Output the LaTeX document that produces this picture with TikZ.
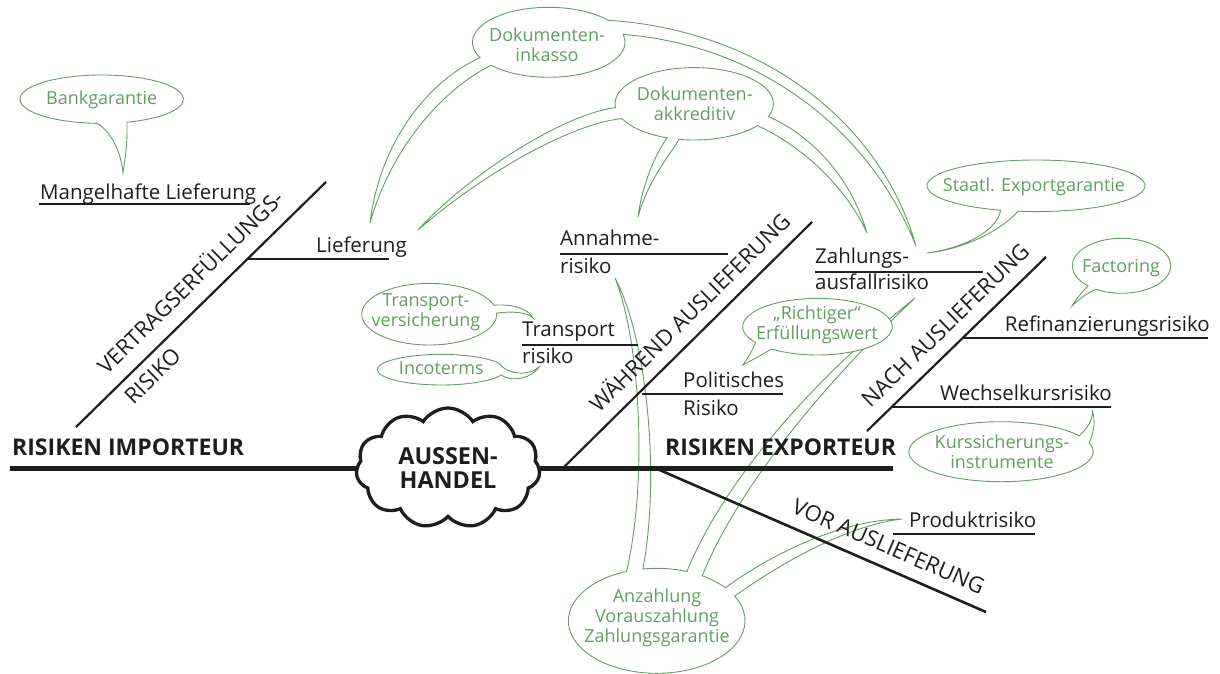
\documentclass[tikz,border=0pt]{standalone}
\usepackage{fontspec}
\setmainfont{Open Sans}
\usetikzlibrary{shapes.symbols,calc}

\definecolor{hintgreen}{RGB}{98,158,98}
\definecolor{ink}{RGB}{30,30,30}

\tikzset{
  spine/.style={ink, line width=5pt},
  branch/.style={ink, line width=2.2pt},
  ribline/.style={ink, line width=1.2pt},
  rib/.style={text=ink, inner sep=0pt, anchor=base west, font=\fontsize{20.5}{24}\selectfont},
  branchlabel/.style={text=ink, inner sep=0pt, sloped, font=\fontsize{22}{26}\selectfont},
  head/.style={text=ink, inner sep=0pt, anchor=base west, font=\bfseries\fontsize{23}{27}\selectfont},
  bubble/.style={draw=hintgreen, line width=0.9pt},
  hint/.style={text=hintgreen, inner sep=0pt, align=center, font=\fontsize{18}{20}\selectfont},
}

\begin{document}
\begin{tikzpicture}[x=1pt, y=-1pt]
\useasboundingbox (0,0) rectangle (1220,674);

% Callouts first, the fishbone is drawn on top

% Bankgarantie
\coordinate (bk) at (101.7,99.2);
\fill[white] (bk) ellipse [x radius=81.7, y radius=24.2];
\draw[bubble] (bk) ++(93:81.7 and 24.2)
  arc[start angle=93, end angle=432, x radius=81.7, y radius=24.2]
  .. controls (127.5,145) and (125,160) .. (123,173)
  .. controls (121,152) and (112,133) .. cycle;
\node[hint, anchor=base] (bank) at (101.7,105) {Bankgarantie};

% Dokumenteninkasso
\coordinate (dink) at (548.7,42.3);
\fill[white] (dink) ellipse [x radius=76.3, y radius=35];
\draw[bubble] (dink) ++(-13:76.3 and 35)
  arc[start angle=-13, end angle=139, x radius=76.3, y radius=35]
  .. controls (445,88) and (392,145) .. (370,223)
  .. controls (380,140) and (430,80) .. ($(dink)+(154:76.3 and 35)$)
  arc[start angle=154, end angle=321, x radius=76.3, y radius=35]
  .. controls (760,30) and (880,120) .. (916,246)
  .. controls (870,130) and (760,45) .. cycle;
\node[hint] (inkasso) at (547,45) {Dokumenten-\\inkasso};

% Dokumentenakkreditiv
\coordinate (dakk) at (694.2,103.8);
\fill[white] (dakk) ellipse [x radius=79.2, y radius=36.2];
\draw[bubble] (dakk) ++(37:79.2 and 36.2)
  arc[start angle=37, end angle=101, x radius=79.2, y radius=36.2]
  .. controls (670,155) and (648,180) .. (638,217)
  .. controls (642,185) and (655,155) .. ($(dakk)+(110:79.2 and 36.2)$)
  arc[start angle=110, end angle=156, x radius=79.2, y radius=36.2]
  .. controls (565,125) and (475,180) .. (418,230)
  .. controls (465,178) and (560,115) .. ($(dakk)+(174:79.2 and 36.2)$)
  arc[start angle=174, end angle=380.5, x radius=79.2, y radius=36.2]
  .. controls (810,135) and (850,175) .. (867,233)
  .. controls (845,185) and (800,145) .. cycle;
\node[hint] (akkreditiv) at (694.7,104) {Dokumenten-\\akkreditiv};

% Staatl. Exportgarantie
\coordinate (staat) at (1036,185.8);
\fill[white] (staat) ellipse [x radius=109, y radius=25.8];
\draw[bubble] (staat) ++(109:109 and 25.8)
  arc[start angle=109, end angle=459.5, x radius=109, y radius=25.8]
  .. controls (1000,232) and (960,250) .. (927,253)
  .. controls (965,248) and (998,230) .. cycle;
\node[hint, anchor=base] (export) at (1034,191.7) {Staatl. Exportgarantie};

% Factoring
\coordinate (fact) at (1121.5,265.8);
\fill[white] (fact) ellipse [x radius=49.2, y radius=27.5];
\draw[bubble] (fact) ++(133:49.2 and 27.5)
  arc[start angle=133, end angle=481, x radius=49.2, y radius=27.5]
  .. controls (1088,292) and (1078,300) .. (1072,306)
  .. controls (1076,299) and (1082,292) .. cycle;
\node[hint, anchor=base] (factoring) at (1121,272.3) {Factoring};

% Transportversicherung
\coordinate (tv) at (429.2,314.2);
\fill[white] (tv) ellipse [x radius=67.5, y radius=30.8];
\draw[bubble] (tv) ++(-2:67.5 and 30.8)
  arc[start angle=-2, end angle=343, x radius=67.5, y radius=30.8]
  .. controls (512,304) and (528,308) .. (533,318)
  .. controls (527,312) and (512,311) .. cycle;
\node[hint] (versicherung) at (426,312) {Transport-\\versicherung};

% Incoterms
\coordinate (inco) at (441.2,369.7);
\fill[white] (inco) ellipse [x radius=63.8, y radius=15.3];
\draw[bubble] (inco) ++(20:63.8 and 15.3)
  arc[start angle=20, end angle=335, x radius=63.8, y radius=15.3]
  .. controls (506,374) and (528,377) .. (539,367)
  .. controls (532,378) and (512,383) .. cycle;
\node[hint, anchor=base] (incoterms) at (441.3,374) {Incoterms};

% Kurssicherungsinstrumente
\coordinate (kurs) at (1001,451.7);
\fill[white] (kurs) ellipse [x radius=92.2, y radius=30];
\draw[bubble] (kurs) ++(-17:92.2 and 30)
  arc[start angle=-17, end angle=328, x radius=92.2, y radius=30]
  .. controls (1088,428) and (1094,418) .. (1092,410)
  .. controls (1096,420) and (1094,432) .. cycle;
\node[hint] (kurssicherung) at (1002,452) {Kurssicherungs-\\instrumente};

% Anzahlung
\coordinate (anz) at (656.7,620.8);
\fill[white] (anz) ellipse [x radius=88.3, y radius=52.5];
\draw[bubble] (anz) ++(332:88.3 and 52.5)
  arc[start angle=332, end angle=610, x radius=88.3, y radius=52.5]
  .. controls (648,480) and (640,340) .. (615,278)
  .. controls (648,340) and (660,480) .. ($(anz)+(261:88.3 and 52.5)$)
  arc[start angle=261, end angle=290, x radius=88.3, y radius=52.5]
  .. controls (720,490) and (800,390) .. (915,298)
  .. controls (812,395) and (735,495) .. ($(anz)+(301:88.3 and 52.5)$)
  arc[start angle=301, end angle=321, x radius=88.3, y radius=52.5]
  .. controls (770,555) and (840,520) .. (902,519)
  .. controls (850,525) and (785,560) .. cycle;
\node[hint] (anzahlung) at (657,618) {Anzahlung\\Vorauszahlung\\Zahlungsgarantie};

% Richtiger Erfuellungswert (covers the Anzahlung tail)
\coordinate (richt) at (817.5,326.7);
\fill[white] (richt) ellipse [x radius=74.8, y radius=28.3];
\draw[bubble] (richt) ++(146:74.8 and 28.3)
  arc[start angle=146, end angle=488, x radius=74.8, y radius=28.3]
  .. controls (760,356) and (750,361) .. (743,365)
  .. controls (747,359) and (752,352) .. cycle;
\node[hint] (richtig) at (817,325) {„Richtiger“\\Erfüllungswert};

% Spine
\coordinate (imp0) at (10,468);
\coordinate (exp1) at (893,468);
\draw[spine] (imp0) -- (exp1);
\node[cloud, draw=ink, fill=white, line width=3.3pt, cloud puffs=11, cloud puff arc=115,
  aspect=1.55, minimum width=184pt, minimum height=120pt, inner sep=0pt, align=center,
  text=ink, font=\bfseries\fontsize{23.4}{24}\selectfont] (cloud) at (448,468) {AUSSEN-\\HANDEL};
\node[head] (imp) at (12,455) {RISIKEN IMPORTEUR};
\node[head] (exp) at (665,455) {RISIKEN EXPORTEUR};

% Vertragserfuellungsrisiko
\coordinate (v0) at (76,427);
\coordinate (v1) at (326,182);
\draw[branch] (v0) -- node[branchlabel, above=14pt, pos=0.523] (vlab) {VERTRAGSERFÜLLUNGS-}
  node[branchlabel, below=8pt, pos=0.258] (vlab2) {RISIKO} (v1);
\node[rib] (mangel) at (40,199) {Mangelhafte Lieferung};
\draw[ribline] (39,204) coordinate (mangel0) -- (250,204) coordinate (mangel1);
\node[rib] (lief) at (316,252) {Lieferung};
\draw[ribline] (248,259) coordinate (lief0) -- (389,259) coordinate (lief1);

% Waehrend Auslieferung
\coordinate (w0) at (563,468);
\coordinate (w1) at (812,222);
\draw[branch] (w0) -- node[branchlabel, above=12pt, pos=0.57] (wlab) {WÄHREND AUSLIEFERUNG} (w1);
\node[rib] (annahme) at (560,245) {Annahme-};
\node[rib] (annahme2) at (560,273) {risiko};
\draw[ribline] (560,254) coordinate (ann0) -- (728,254) coordinate (ann1);
\node[rib] (transport) at (522,336) {Transport};
\node[rib] (transport2) at (522,363) {risiko};
\draw[ribline] (522,345) coordinate (tr0) -- (638,345) coordinate (tr1);
\node[rib] (polit) at (683,387) {Politisches};
\node[rib] (polit2) at (683,415) {Risiko};
\draw[ribline] (642,394) coordinate (pol0) -- (783,394) coordinate (pol1);

% Nach Auslieferung
\coordinate (n0) at (867,431);
\coordinate (n1) at (1046,257);
\draw[branch] (n0) -- node[branchlabel, above=12pt, pos=0.52] (nlab) {NACH AUSLIEFERUNG} (n1);
\node[rib] (zahlung) at (815,263) {Zahlungs-};
\node[rib] (zahlung2) at (815,289) {ausfallrisiko};
\draw[ribline] (815,272) coordinate (za0) -- (983,272) coordinate (za1);
\node[rib, anchor=base east] (refi) at (1210,331) {Refinanzierungsrisiko};
\draw[ribline] (963,338) coordinate (re0) -- (1208,338) coordinate (re1);
\node[rib, anchor=base east] (wechsel) at (1112,400) {Wechselkursrisiko};
\draw[ribline] (893,407) coordinate (we0) -- (1111,407) coordinate (we1);

% Vor Auslieferung
\coordinate (vor0) at (655,468);
\coordinate (vor1) at (986,612);
\draw[branch, line width=2.6pt] (vor0) -- node[branchlabel, above=12pt, pos=0.68] (vorlab) {VOR AUSLIEFERUNG} (vor1);
\node[rib] (produkt) at (909,527) {Produktrisiko};
\draw[ribline] (893,534) coordinate (pr0) -- (1035,534) coordinate (pr1);

\end{tikzpicture}
\end{document}
